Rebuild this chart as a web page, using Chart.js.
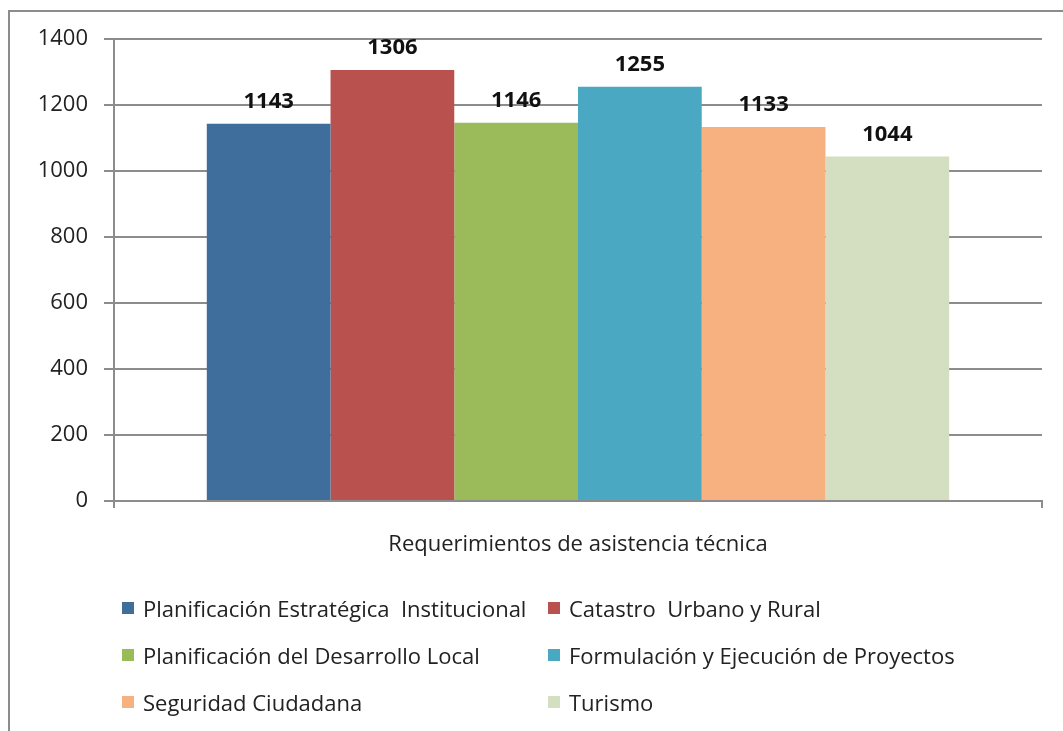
<!DOCTYPE html>
<html>
<head>
<meta charset="utf-8">
<script src="https://cdn.jsdelivr.net/npm/chart.js@4/dist/chart.umd.min.js"></script>
<style>
  html, body { margin: 0; padding: 0; background: #fff; }
  #wrap { position: relative; width: 1063px; height: 731px; overflow: hidden; }
  #marco { position: absolute; left: 8px; top: 10px; width: 1200px; height: 900px;
           border-left: 2px solid #8c8c8c; border-top: 2px solid #8c8c8c; }
  canvas { position: absolute; left: 0; top: 0; }
  #leyenda { position: absolute; left: 122px; top: 594px; display: grid;
             grid-template-columns: 426px 420px; row-gap: 19px;
             font-family: 'Open Sans', sans-serif; font-size: 22px; color: #222; }
  #leyenda div { display: flex; align-items: center; height: 28px; white-space: nowrap; }
  #leyenda span.cuadro { width: 12px; height: 12px; margin-right: 9px; flex: none; }
</style>
</head>
<body>
<div id="wrap">
  <div id="marco"></div>
  <canvas id="chart" width="1063" height="731"></canvas>
  <div id="leyenda"></div>
</div>
<script>
// datos
const categorias = ['Requerimientos de asistencia técnica'];
const series = [
  'Planificación Estratégica  Institucional',
  'Catastro  Urbano y Rural',
  'Planificación del Desarrollo Local',
  'Formulación y Ejecución de Proyectos',
  'Seguridad Ciudadana',
  'Turismo',
];
const valores = [1143, 1306, 1146, 1255, 1133, 1044];
const colores = ['#3f6d9c', '#b9524f', '#9bbb5b', '#4aa8c2', '#f7b080', '#d3dfc0'];
const ticksY = [0, 200, 400, 600, 800, 1000, 1200, 1400];

const fuente = "'Open Sans', sans-serif";

// etiquetas de valor encima de cada barra
const etiquetas = {
  id: 'etiquetas',
  afterDatasetsDraw(chart) {
    const ctx = chart.ctx;
    ctx.save();
    ctx.font = `bold 22px ${fuente}`;
    ctx.fillStyle = '#111';
    ctx.textAlign = 'center';
    ctx.textBaseline = 'bottom';
    chart.data.datasets.forEach((ds, i) => {
      chart.getDatasetMeta(i).data.forEach((bar, j) => {
        ctx.fillText(String(ds.data[j]), bar.x, bar.y - 11);
      });
    });
    ctx.restore();
  },
};

const chart = new Chart(document.getElementById('chart'), {
  type: 'bar',
  data: {
    labels: categorias,
    datasets: series.map((nombre, i) => ({
      label: nombre,
      data: [valores[i]],
      backgroundColor: colores[i],
      borderWidth: 0,
      categoryPercentage: 0.8,
      barPercentage: 1.0,
    })),
  },
  options: {
    responsive: false,
    animation: false,
    layout: { padding: { left: 0, right: 21, top: 39, bottom: 0 } },
    plugins: { legend: { display: false }, tooltip: { enabled: false } },
    scales: {
      x: {
        offset: true,
        grid: { offset: true, drawOnChartArea: false, color: '#8c8c8c', lineWidth: 2, tickLength: 7 },
        border: { color: '#8c8c8c', width: 2 },
        ticks: { color: '#222', font: { family: fuente, size: 22 }, padding: 24 },
        afterFit(scale) { scale.height = 230; },
      },
      y: {
        min: 0, max: 1400,
        afterBuildTicks(scale) { scale.ticks = ticksY.map((v) => ({ value: v })); },
        grid: { color: '#8c8c8c', lineWidth: 2, tickLength: 10 },
        border: { color: '#8c8c8c', width: 2 },
        ticks: { color: '#222', font: { family: fuente, size: 22 }, padding: 16,
                 callback: (v) => String(v) },
        afterFit(scale) { scale.width = 114; },
      },
    },
  },
  plugins: [etiquetas],
});

// leyenda en dos columnas
document.getElementById('leyenda').innerHTML = chart.data.datasets
  .map((ds) => `<div><span class="cuadro" style="background:${ds.backgroundColor}"></span>${ds.label.replace(/  /g, ' &nbsp;')}</div>`)
  .join('');
</script>
</body>
</html>
